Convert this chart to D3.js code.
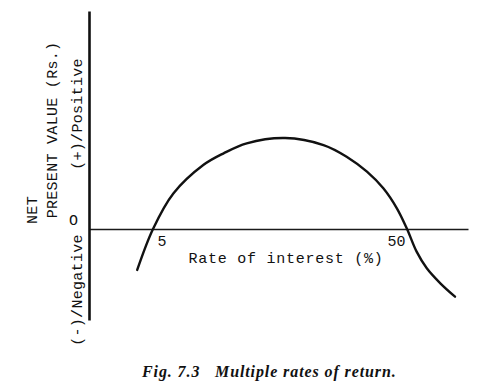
<!DOCTYPE html>
<html>
<head>
<meta charset="utf-8">
<script src="https://cdn.jsdelivr.net/npm/d3@7"></script>
<style>
  body { margin: 0; background: #fff; }
  .mono { font-family: "Liberation Mono", "DejaVu Sans Mono", monospace; fill: #111; }
</style>
</head>
<body>
<div id="chart"></div>
<script>
// rate of interest (%) and net present value (arbitrary units, peak ~100)
var rates = [2.2, 5, 8.6, 13.9, 17.5, 21.6, 28.4, 35.2, 39.3, 42.9, 45.8, 48.2, 50, 51.7, 53.5, 55.9, 58.5];
var npv = [-45, 0, 39, 70.3, 83.2, 94.2, 100, 92.3, 79.5, 63, 44.7, 22.7, 0, -24.9, -43.2, -59.7, -74.4];
var xTicks = [5, 50];
var yTicks = [0];
var xTickLabels = ["5", "50"];
var yTickLabels = ["O"];

var w = 502, h = 385;
var svg = d3.select("#chart").append("svg").attr("width", w).attr("height", h);

var x = d3.scaleLinear().domain([-6.34, 60.8]).range([89, 468]);
var y = d3.scaleLinear().domain([-100, 239.6]).range([320, 11]);

var pts = rates.map(function (r, i) { return {r: r, v: npv[i]}; });

// x axis (horizontal line through zero)
var xAxis = d3.axisBottom(x).tickValues(xTicks).tickSize(0).tickPadding(6)
    .tickFormat(function (d, i) { return xTickLabels[i]; });
var gx = svg.append("g").attr("transform", "translate(0," + y(0) + ")").call(xAxis);
gx.select(".domain").attr("stroke", "#1a1a1a").attr("stroke-width", 1.6);
gx.selectAll("text").attr("class", "mono").style("font-size", "15px")
    .attr("fill", "#111")
    .attr("text-anchor", function (d, i) { return i == 0 ? "start" : "end"; })
    .attr("dx", function (d, i) { return i == 0 ? 4 : -2; });

// y axis
var yAxis = d3.axisLeft(y).tickValues(yTicks).tickSize(0).tickPadding(11)
    .tickFormat(function (d, i) { return yTickLabels[i]; });
var gy = svg.append("g").attr("transform", "translate(" + x(-6.34) + ",0)").call(yAxis);
gy.select(".domain").attr("stroke", "#111").attr("stroke-width", 2.6);
gy.selectAll("text").attr("class", "mono").style("font-size", "15px")
    .attr("fill", "#111").attr("dy", "-0.3em");

// npv curve
var line = d3.line().x(function (d) { return x(d.r); }).y(function (d) { return y(d.v); })
    .curve(d3.curveCatmullRom.alpha(0.5));
svg.append("path").datum(pts).attr("d", line)
    .attr("fill", "none").attr("stroke", "#111").attr("stroke-width", 2.4)
    .attr("stroke-linecap", "round");

// x axis title
svg.append("text").attr("class", "mono").attr("x", 286).attr("y", 263)
    .attr("text-anchor", "middle").style("font-size", "15px")
    .style("letter-spacing", "0.75px")
    .text("Rate of interest (%)");

// rotated y labels
function vtext(tx, ty, s) {
    svg.append("text").attr("class", "mono")
        .attr("transform", "translate(" + tx + "," + ty + ") rotate(-90)")
        .attr("text-anchor", "middle").style("font-size", "15px")
        .style("letter-spacing", "0.3px")
        .text(s);
}
vtext(82, 114, "(+)/Positive");
vtext(82, 290, "(-)/Negative");
vtext(57, 130, "PRESENT VALUE (Rs.)");
vtext(37, 210, "NET");

// caption
function caption(tx, s) {
    svg.append("text").attr("x", tx).attr("y", 377)
        .style("font-family", "'Liberation Serif', serif").style("font-weight", "bold")
        .style("font-style", "italic").style("font-size", "16px").attr("fill", "#111")
        .style("letter-spacing", "0.9px")
        .text(s);
}
caption(142, "Fig. 7.3");
caption(215, "Multiple rates of return.");
</script>
</body>
</html>
